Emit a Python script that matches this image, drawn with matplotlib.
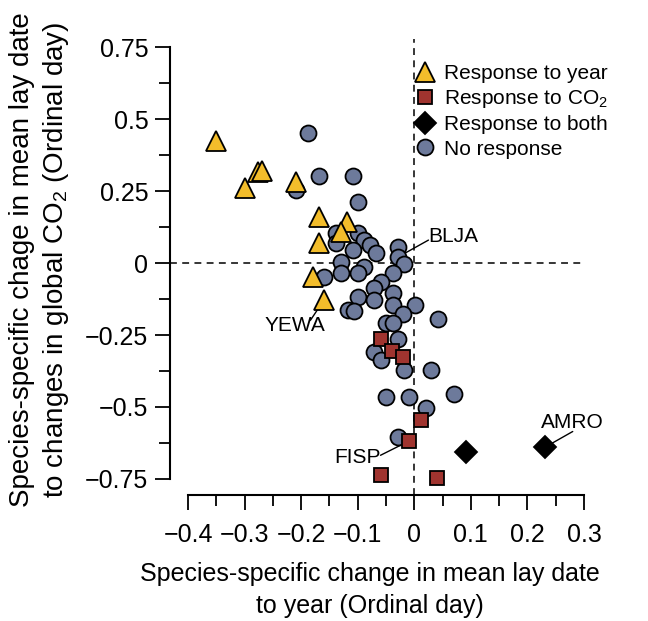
import numpy as np
import matplotlib
matplotlib.use("Agg")
import matplotlib.pyplot as plt

plt.rcParams['font.family'] = ['Liberation Sans', 'DejaVu Sans']
plt.rcParams['mathtext.default'] = 'regular'

# species-level slopes: x = response to year, y = response to CO2
year_x = [-0.351, -0.300, -0.277, -0.270, -0.209, -0.169, -0.119, -0.130, -0.169, -0.179, -0.160]
year_y = [0.424, 0.261, 0.317, 0.320, 0.282, 0.160, 0.143, 0.108, 0.070, -0.049, -0.129]

co2_x = [-0.059, -0.040, -0.020, 0.011, -0.010, -0.059, 0.040]
co2_y = [-0.264, -0.306, -0.327, -0.546, -0.619, -0.738, -0.748]

both_x = [0.091, 0.231]
both_y = [-0.658, -0.640]

none_x = [-0.188, -0.169, -0.109, -0.209, -0.100, -0.139, -0.100, -0.089, -0.078, -0.068,
          -0.109, -0.139, -0.029, -0.029, -0.019, -0.130, -0.089, -0.100, -0.130, -0.160,
          -0.038, -0.059, -0.072, -0.038, -0.100, -0.072, 0.001, -0.038, -0.117, -0.107,
          -0.020, 0.042, -0.050, -0.038, -0.029, -0.072, -0.059, -0.019, 0.029, -0.050,
          -0.010, 0.070, 0.020, -0.029]
none_y = [0.452, 0.303, 0.303, 0.254, 0.212, 0.104, 0.104, 0.080, 0.063, 0.035,
          0.045, 0.070, 0.056, 0.021, -0.003, 0.003, -0.014, -0.035, -0.035, -0.049,
          -0.035, -0.066, -0.087, -0.104, -0.118, -0.129, -0.146, -0.146, -0.164, -0.167,
          -0.177, -0.195, -0.209, -0.209, -0.264, -0.310, -0.338, -0.372, -0.372, -0.466,
          -0.466, -0.456, -0.505, -0.605]

# labelled species: name, point, text offset (points), where the leader leaves the text
labels = ['BLJA', 'YEWA', 'FISP', 'AMRO']
label_pts = [(-0.029, 0.021), (-0.160, -0.129), (-0.010, -0.619), (0.231, -0.640)]
label_offsets = [(40, 15), (-21, -18.5), (-37, -11.5), (20, 17.5)]
label_relpos = [(0.0, 0.3), (0.76, 0.8), (1.0, 0.6), (0.5, 0.05)]

xticks = [-0.4, -0.3, -0.2, -0.1, 0, 0.1, 0.2, 0.3]
xticklabels = ['\u22120.4', '\u22120.3', '\u22120.2', '\u22120.1', '0', '0.1', '0.2', '0.3']
yticks = [0.75, 0.5, 0.25, 0, -0.25, -0.5, -0.75]
yticklabels = ['0.75', '0.5', '0.25', '0', '\u22120.25', '\u22120.5', '\u22120.75']

fig = plt.figure(figsize=(6.48, 6.21), dpi=100)
ax = fig.add_axes([0.2623, 0.2029, 0.6389, 0.7346])

dash = (0, (4.5, 3.5))
ax.axhline(0, color='black', lw=1.1, ls=dash, zorder=1)
ax.axvline(0, color='black', lw=1.1, ls=dash, zorder=1)

ew = 1.3
ax.plot(none_x, none_y, 'o', ms=11.5, mfc='#6d7a9b', mec='black', mew=ew,
        ls='none', zorder=3, label='No response')
ax.plot(year_x, year_y, '^', ms=15, mfc='#f3bd2b', mec='black', mew=ew,
        ls='none', zorder=4, label='Response to year')
ax.plot(co2_x, co2_y, 's', ms=10.5, mfc='#a0342f', mec='black', mew=ew,
        ls='none', zorder=4, label='Response to CO$_2$')
ax.plot(both_x, both_y, 'D', ms=11, mfc='black', mec='black', mew=ew,
        ls='none', zorder=4, label='Response to both')

for name, pt, off, rp in zip(labels, label_pts, label_offsets, label_relpos):
    ax.annotate(name, xy=pt, xytext=off, textcoords='offset points',
                fontsize=15, ha='center', va='center', zorder=2,
                arrowprops=dict(arrowstyle='-', color='black', lw=1.0,
                                patchA=None, relpos=rp, shrinkA=0, shrinkB=0))

ax.set_xlim(-0.432, 0.3)
ax.set_ylim(-0.806, 0.78)

ax.set_xticks(xticks)
ax.set_xticklabels(xticklabels)
ax.set_xticks(np.arange(-0.35, 0.3, 0.1), minor=True)
ax.set_yticks(yticks)
ax.set_yticklabels(yticklabels)
ax.set_yticks(np.arange(-0.625, 0.7, 0.25), minor=True)

for s in ['top', 'right']:
    ax.spines[s].set_visible(False)
ax.spines['left'].set_bounds(-0.75, 0.75)
ax.spines['bottom'].set_bounds(-0.4, 0.3)
ax.spines['left'].set_linewidth(1.5)
ax.spines['bottom'].set_linewidth(1.5)
ax.tick_params(which='major', length=10.5, width=1.3, labelsize=18)
ax.tick_params(axis='x', which='major', pad=10)
ax.tick_params(axis='y', which='major', pad=5)
ax.tick_params(which='minor', length=8, width=1.3)

ax.set_xlabel('Species-specific change in mean lay date\nto year (Ordinal day)',
              fontsize=18, linespacing=1.45)
ax.xaxis.set_label_coords(0.483, -0.146)
ax.set_ylabel('Species-specific chage in mean lay date\nto changes in global CO$_2$ (Ordinal day)',
              fontsize=20, linespacing=1.25)
ax.yaxis.set_label_coords(-0.24, 0.515)

handles, hl = ax.get_legend_handles_labels()
order = [1, 2, 3, 0]
ax.legend([handles[i] for i in order], [hl[i] for i in order],
          loc='upper left', bbox_to_anchor=(0.59, 0.945), frameon=False,
          fontsize=15, handlelength=1.0, handletextpad=0.45, labelspacing=0.25,
          borderaxespad=0, borderpad=0)

fig.savefig('out.png', dpi=100)
